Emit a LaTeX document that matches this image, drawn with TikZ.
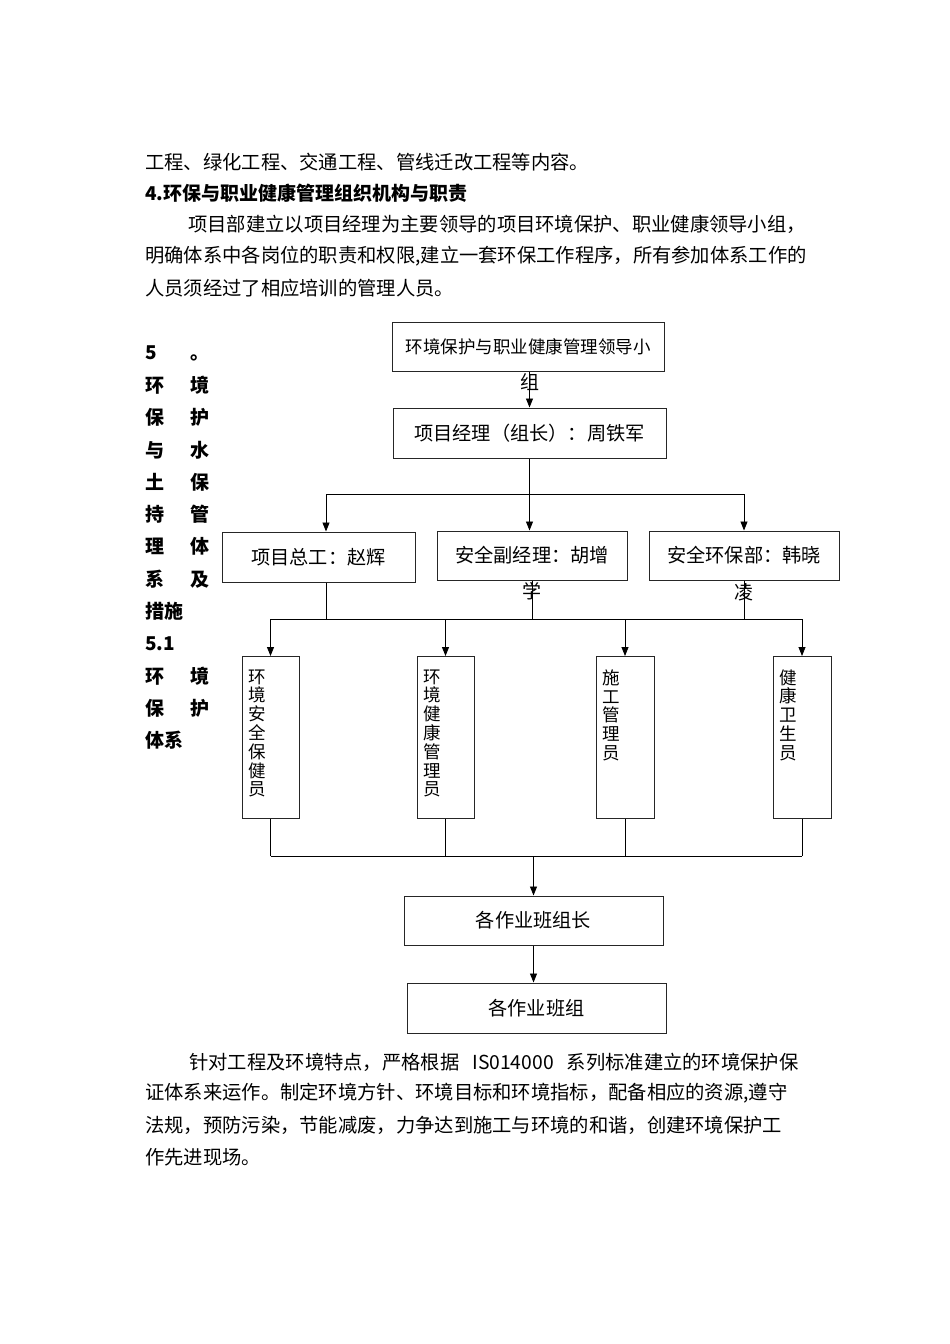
\documentclass[tikz,border=0pt]{standalone}
\usepackage{fontspec}
\setmainfont{Noto Sans CJK SC}
\usetikzlibrary{arrows.meta,calc}
\tikzset{
  >=Triangle,
  orgbox/.style={
    draw=black!85,
    line width=1pt,
    inner sep=0pt,
    minimum width=#1,
    minimum height=49pt,
    align=center,
    font=\fontsize{19.2pt}{19.2pt}\selectfont
  },
  orgbox/.default=190pt,
  vbox/.style={
    draw=black!85,
    line width=1pt,
    inner sep=0pt,
    minimum width=57pt,
    minimum height=162pt,
    anchor=north
  },
  arrow/.style={
    -{Triangle[length=9pt,width=7pt]},
    line width=0.8pt
  },
  link/.style={
    line width=0.8pt
  },
  spill/.style={
    inner sep=0pt,
    font=\fontsize{19pt}{19pt}\selectfont
  },
  bodytxt/.style={
    anchor=west,
    inner sep=0pt,
    font=\fontsize{19.3pt}{19.3pt}\selectfont
  },
  headtxt/.style={
    anchor=west,
    inner sep=0pt,
    font=\fontsize{19pt}{19pt}\selectfont\bfseries
  }
}
% one character per line, top aligned inside a tall box
\newcommand{\colstack}[1]{\parbox[c][136pt][t]{45pt}{\fontsize{17.5pt}{18.8pt}\selectfont #1}}
% two characters spread over the narrow side column
\newcommand{\sidepair}[2]{\makebox[45pt][l]{#1}#2}

\begin{document}
\begin{tikzpicture}[x=1pt,y=-1pt]
\useasboundingbox (0,0) rectangle (950,1344);

% text above the chart
\node[bodytxt] (p1) at (145,162) {工程、绿化工程、交通工程、管线迁改工程等内容。};
\node[headtxt] (p2) at (145,193) {4.环保与职业健康管理组织机构与职责};
\node[bodytxt] (p3) at (188,224) {项目部建立以项目经理为主要领导的项目环境保护、职业健康领导小组，};
\node[bodytxt] (p4) at (145,256) {明确体系中各岗位的职责和权限,建立一套环保工作程序，所有参加体系工作的};
\node[bodytxt] (p5) at (145,288) {人员须经过了相应培训的管理人员。};

% side column
\node[headtxt] (s1) at (145,353) {\sidepair{5}{。}};
\node[headtxt] (s2) at (145,385.3) {\sidepair{环}{境}};
\node[headtxt] (s3) at (145,417.6) {\sidepair{保}{护}};
\node[headtxt] (s4) at (145,449.9) {\sidepair{与}{水}};
\node[headtxt] (s5) at (145,482.2) {\sidepair{土}{保}};
\node[headtxt] (s6) at (145,514.5) {\sidepair{持}{管}};
\node[headtxt] (s7) at (145,546.8) {\sidepair{理}{体}};
\node[headtxt] (s8) at (145,579.1) {\sidepair{系}{及}};
\node[headtxt] (s9) at (145,611.4) {措施};
\node[headtxt] (s10) at (145,643.7) {5.1};
\node[headtxt] (s11) at (145,676) {\sidepair{环}{境}};
\node[headtxt] (s12) at (145,708.3) {\sidepair{保}{护}};
\node[headtxt] (s13) at (145,740.6) {体系};

% chart boxes
\node[orgbox=272pt, font=\fontsize{17.5pt}{17.5pt}\selectfont] (lead) at (528,346.5) {环境保护与职业健康管理领导小};
\node[spill] (leadx) at (530,382) {组};
\node[orgbox=273pt, minimum height=50pt] (mgr) at (529.5,433) {项目经理（组长）：周铁军};

\node[orgbox=193pt, minimum height=50pt] (chief) at (318.5,557) {项目总工：赵辉};
\node[orgbox] (deputy) at (532,555.5) {安全副经理：胡增};
\node[spill] (deputyx) at (532,591) {学};
\node[orgbox] (envdept) at (744,555.5) {安全环保部：韩晓};
\node[spill] (envdeptx) at (744,592) {凌};

\node[vbox] (r1) at (270.5,656) {\colstack{环\\境\\安\\全\\保\\健\\员}};
\node[vbox] (r2) at (445.5,656) {\colstack{环\\境\\健\\康\\管\\理\\员}};
\node[vbox, minimum width=58pt] (r3) at (625,656) {\colstack{施\\工\\管\\理\\员}};
\node[vbox, minimum width=58pt] (r4) at (802,656) {\colstack{健\\康\\卫\\生\\员}};

\node[orgbox=259pt] (foreman) at (533.5,920.5) {各作业班组长};
\node[orgbox=259pt, minimum height=50pt] (crew) at (536.5,1008) {各作业班组};

% connectors
\draw[arrow] (mgr.north |- lead.south) -- (mgr.north);

\coordinate (ta) at (326,494);
\coordinate (tb) at (744,494);
\draw[link] (ta) -- (tb);
\draw[arrow] (ta) -- (ta |- chief.north);
\draw[arrow] (mgr.south) -- (mgr.south |- deputy.north);
\draw[arrow] (tb) -- (envdept.north);

\coordinate (ma) at (270.5,619);
\coordinate (mb) at (802,619);
\draw[link] (ma) -- (mb);
\draw[link] (ta |- chief.south) -- (ta |- ma);
\draw[link] (deputy.south) -- (deputy.south |- ma);
\draw[link] (envdept.south) -- (envdept.south |- ma);
\foreach \n in {r1,r2,r3,r4}
  \draw[arrow] (\n.north |- ma) -- (\n.north);

\coordinate (la) at (270.5,856);
\coordinate (lb) at (802,856);
\draw[link] (la) -- (lb);
\foreach \n in {r1,r2,r3,r4}
  \draw[link] (\n.south) -- (\n.south |- la);
\draw[arrow] (foreman.north |- la) -- (foreman.north);
\draw[arrow] (foreman.south) -- (foreman.south |- crew.north);

% text below the chart
\node[bodytxt] (q1) at (189,1062) {针对工程及环境特点，严格根据\hspace{13pt}IS014000\hspace{13pt}系列标准建立的环境保护保};
\node[bodytxt] (q2) at (145,1093) {证体系来运作。制定环境方针、环境目标和环境指标，配备相应的资源,遵守};
\node[bodytxt] (q3) at (145,1125) {法规，预防污染，节能减废，力争达到施工与环境的和谐，创建环境保护工};
\node[bodytxt] (q4) at (145,1157) {作先进现场。};

\end{tikzpicture}
\end{document}
